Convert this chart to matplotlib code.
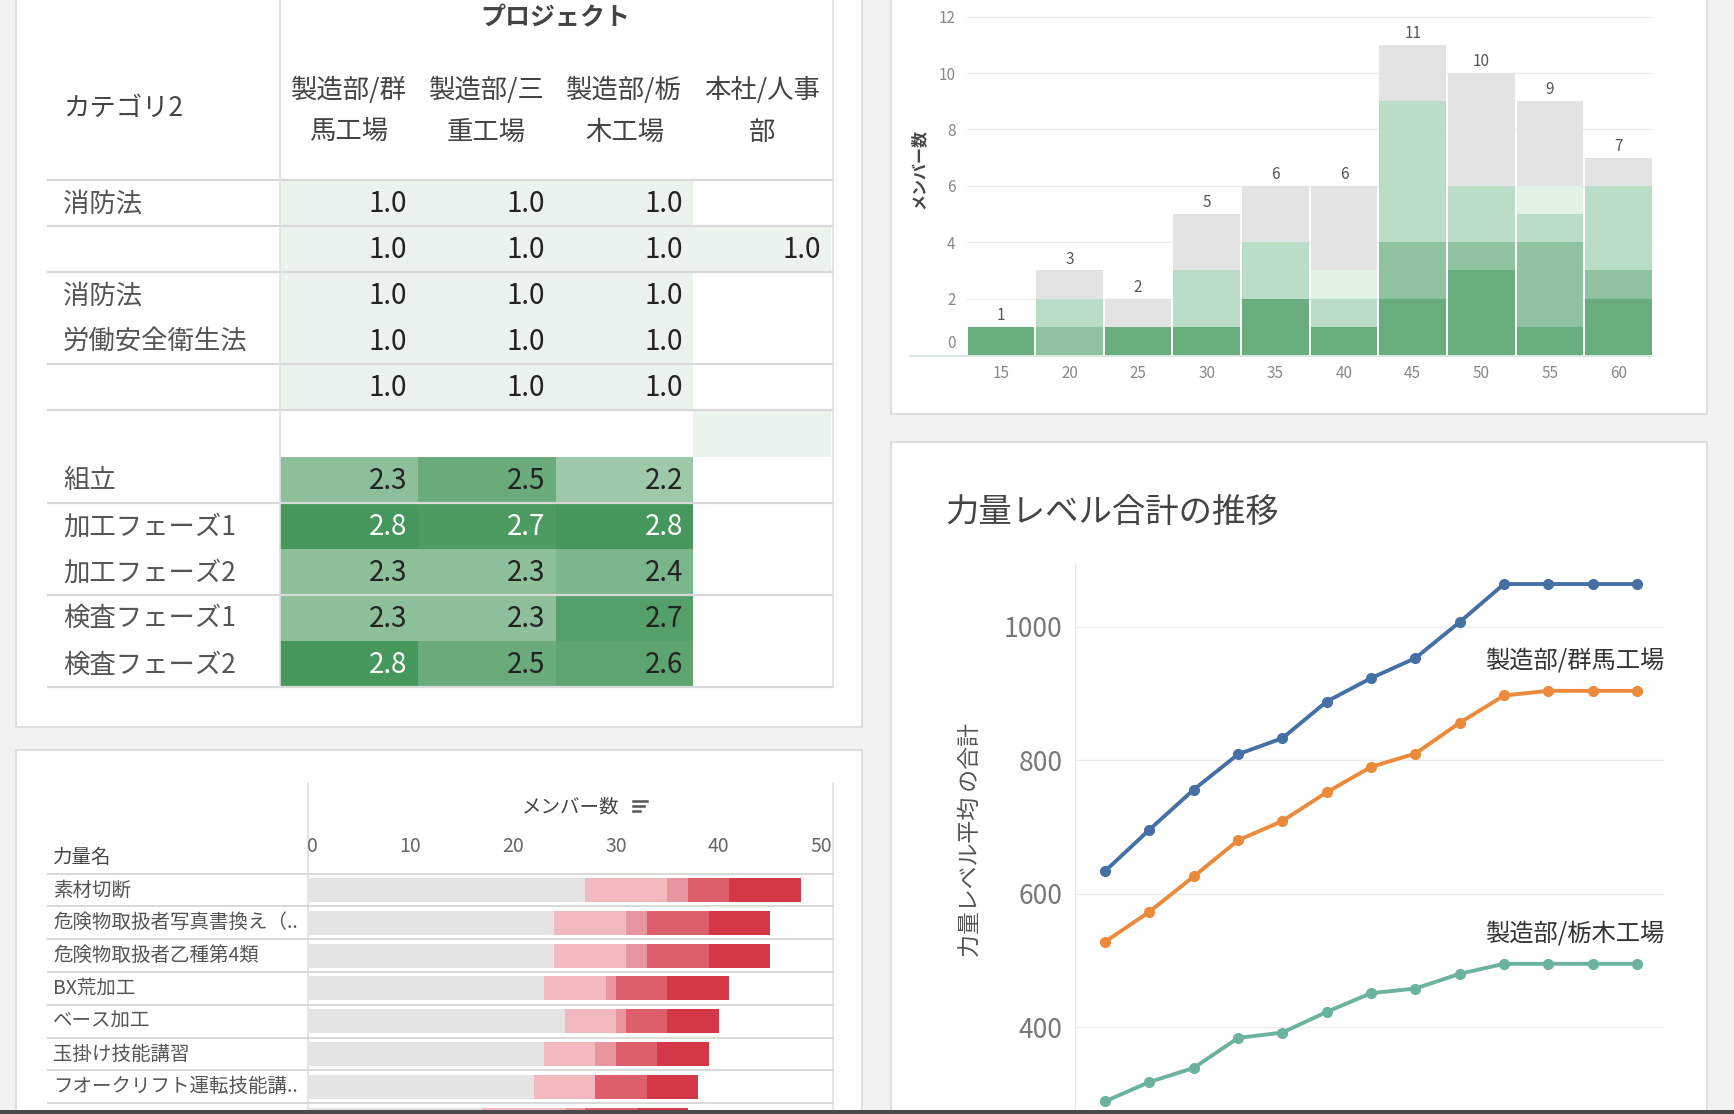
#!/usr/bin/env python3
"""Skill dashboard: heat table, age histogram, skill bars and trend lines."""

import numpy as np
import matplotlib
matplotlib.use("Agg")
import matplotlib.pyplot as plt
from matplotlib.colors import LinearSegmentedColormap, Normalize
from matplotlib.patches import Rectangle
from matplotlib import transforms

plt.rcParams['font.family'] = ['Noto Sans CJK JP', 'DejaVu Sans']

W, H = 1734, 1114
DPI = 100
nan = np.nan

# ---- heat table (average skill level per project) ----
PROJECTS = ['製造部/群\n馬工場', '製造部/三\n重工場', '製造部/栃\n木工場', '本社/人事\n部']
TABLE_ROWS = ['消防法', '', '消防法', '労働安全衛生法', '', '',
              '組立', '加工フェーズ1', '加工フェーズ2', '検査フェーズ1', '検査フェーズ2']
TABLE_VALUES = np.array([
    [1.0, 1.0, 1.0, nan],
    [1.0, 1.0, 1.0, 1.0],
    [1.0, 1.0, 1.0, nan],
    [1.0, 1.0, 1.0, nan],
    [1.0, 1.0, 1.0, nan],
    [nan, nan, nan, 1.0],
    [2.3, 2.5, 2.2, nan],
    [2.8, 2.74, 2.8, nan],
    [2.3, 2.3, 2.4, nan],
    [2.3, 2.3, 2.66, nan],
    [2.8, 2.5, 2.6, nan],
])
UNLABELED_CELLS = [(5, 3)]
GROUP_LAST_ROWS = [0, 1, 3, 4, 6, 8, 10]

# ---- age histogram (members per age, stacked by level) ----
AGES = [15, 20, 25, 30, 35, 40, 45, 50, 55, 60]
AGE_L4 = [1, 0, 1, 1, 2, 1, 2, 3, 1, 2]
AGE_L3 = [0, 1, 0, 0, 0, 0, 2, 1, 3, 1]
AGE_L2 = [0, 1, 0, 2, 2, 1, 5, 2, 1, 3]
AGE_L1 = [0, 0, 0, 0, 0, 1, 0, 0, 1, 0]
AGE_NONE = [0, 1, 1, 2, 2, 3, 2, 4, 3, 1]

# ---- skill bars (members per skill, stacked by level) ----
SKILL_NAMES = ['素材切断', '危険物取扱者写真書換え（..', '危険物取扱者乙種第4類', 'BX荒加工',
               'ベース加工', '玉掛け技能講習', 'フオークリフト運転技能講..', '']
SKILL_NONE = [27, 24, 24, 23, 25, 23, 22, 17]
SKILL_L1 = [8, 7, 7, 6, 5, 5, 6, 8]
SKILL_L2 = [2, 2, 2, 1, 1, 2, 0, 2]
SKILL_L3 = [4, 6, 6, 5, 4, 4, 5, 5]
SKILL_L4 = [7, 6, 6, 6, 5, 5, 5, 5]

# ---- trend of summed skill level ----
TREND_BLUE = [634, 696, 756, 809, 833, 888, 923, 953, 1007, 1064, 1064, 1064, 1064]
TREND_ORANGE = [528, 573, 626, 680, 709, 752, 790, 810, 856, 897, 904, 904, 904]
TREND_TEAL = [289, 318, 339, 384, 392, 423, 451, 458, 480, 495, 495, 495, 495]
LABEL_ORANGE = '製造部/群馬工場'
LABEL_TEAL = '製造部/栃木工場'

GRAY_TEXT = '#555555'
LINE_GRAY = '#d9d9d9'

fig = plt.figure(figsize=(W / DPI, H / DPI), dpi=DPI, facecolor='#f2f2f2')


def px_axes(x0, y0, x1, y1):
    ax = fig.add_axes([x0 / W, 1 - y1 / H, (x1 - x0) / W, (y1 - y0) / H])
    ax.set_facecolor('none')
    return ax


# background + panels in pixel space
bg = px_axes(0, 0, W, H)
bg.set_xlim(0, W)
bg.set_ylim(H, 0)
bg.axis('off')
for (x0, y0, x1, y1) in [(15.5, -5, 862, 727), (15.5, 750, 862, 1125),
                         (891, -5, 1707, 414), (891, 442, 1707, 1125)]:
    bg.add_patch(Rectangle((x0, y0), x1 - x0, y1 - y0, facecolor='white',
                           edgecolor='#dcdcdc', lw=1.3))

# ============================================
# Heat table
# ============================================
tax = px_axes(280, 180, 831, 687)
cmap = LinearSegmentedColormap.from_list(
    'skill', [(0.0, '#eaf4ec'), (1.2 / 1.8, '#9dc9a8'), (1.5 / 1.8, '#69ab7d'), (1.0, '#45975b')])
norm = Normalize(1.0, 2.8)
nrows, ncols = TABLE_VALUES.shape
tax.pcolormesh(np.arange(ncols + 1), np.arange(nrows + 1),
               np.ma.masked_invalid(TABLE_VALUES), cmap=cmap, norm=norm)
tax.set_xlim(0, ncols)
tax.set_ylim(nrows, 0)
tax.axis('off')

for r in range(nrows):
    for c in range(ncols):
        v = TABLE_VALUES[r, c]
        if np.isnan(v) or (r, c) in UNLABELED_CELLS:
            continue
        tax.text(c + 1 - 0.075, r + 0.52, f'{v:.1f}', ha='right', va='center',
                 fontsize=20, color='white' if v >= 2.7 else '#222222')
    tax.text(-1.575, r + 0.52, TABLE_ROWS[r], ha='left', va='center',
             fontsize=19, color=GRAY_TEXT)

for c, name in enumerate(PROJECTS):
    tax.text(c + 0.5, -1.49, name, ha='center', va='center', fontsize=19,
             color='#444444', linespacing=1.7)
tax.text(-1.575, -1.56, 'カテゴリ2', ha='left', va='center', fontsize=19, color='#444444')
tax.text(ncols / 2, -3.5, 'プロジェクト', ha='center', va='center', fontsize=18,
         color='#444444', fontweight='bold')

for r in [-1] + GROUP_LAST_ROWS:
    tax.plot([-1.684, 4.015], [r + 1, r + 1], color=LINE_GRAY, lw=1.6, clip_on=False)
for xv in [0, 4.015]:
    tax.plot([xv, xv], [-4.0, nrows], color='#e0e0e0', lw=1.2, clip_on=False)

# ============================================
# Age histogram
# ============================================
hax = px_axes(966.5, 11, 1653, 355)
x = np.arange(len(AGES))
bottom = np.zeros(len(AGES))
for vals, color in [(AGE_L4, '#68ad7e'), (AGE_L3, '#8fc3a0'), (AGE_L2, '#b9ddc6'),
                    (AGE_L1, '#e2f3e6'), (AGE_NONE, '#e3e3e3')]:
    hax.bar(x, vals, 0.97, bottom=bottom, color=color, lw=0)
    bottom += np.array(vals)
for i, total in enumerate(bottom):
    hax.text(i, total + 0.4, f'{int(total)}', ha='center', va='center', fontsize=11, color=GRAY_TEXT)

hax.set_xlim(-0.5, len(AGES) - 0.5)
hax.set_ylim(0, 12.2)
hax.set_xticks(x)
hax.set_xticklabels([str(a) for a in AGES])
hax.set_yticks(range(2, 13, 2))
hax.tick_params(length=0, labelsize=11, colors='#888888')
hax.tick_params(axis='x', pad=7)
hax.tick_params(axis='y', pad=8)
hax.annotate('0', xy=(0, 0), xycoords=('axes fraction', 'data'), xytext=(-8, 8),
             textcoords='offset points', ha='right', va='center', fontsize=11, color='#888888')
hax.yaxis.grid(True, color='#ececec', lw=1)
hax.set_axisbelow(True)
for s in hax.spines.values():
    s.set_visible(False)
bg.plot([910, 1653], [355.5, 355.5], color='#d8e6dc', lw=1.3)
fig.text(919 / W, 1 - 169 / H, 'メンバー数', rotation=90, ha='center', va='center',
         fontsize=11.5, color='#444444', fontweight='bold')

# ============================================
# Skill bars
# ============================================
bax = px_axes(307.5, 873.6, 833, 1114)
rows_visible = (1114 - 873.6) / 32.8
y = np.arange(len(SKILL_NAMES))
left = np.zeros(len(SKILL_NAMES))
for vals, color in [(SKILL_NONE, '#e4e4e4'), (SKILL_L1, '#f2b9c0'), (SKILL_L2, '#e8959f'),
                    (SKILL_L3, '#dd5f6c'), (SKILL_L4, '#d43847')]:
    bax.barh(y, vals, 0.73, left=left, color=color, lw=0)
    left += np.array(vals)
bax.set_ylim(-0.5 + rows_visible, -0.5)
bax.set_xlim(0, 51.1)
bax.xaxis.tick_top()
bax.set_xticks(range(0, 51, 10))
bax.set_yticks([])
bax.tick_params(length=0, labelsize=14, colors='#666666', pad=12)
bax.get_xticklabels()[0].set_horizontalalignment('left')
for s in bax.spines.values():
    s.set_visible(False)

blend = transforms.blended_transform_factory(bax.transAxes, bax.transData)
for i, name in enumerate(SKILL_NAMES):
    bax.text(-0.4843, i, name, transform=blend, ha='left', va='center',
             fontsize=14, color=GRAY_TEXT, clip_on=False)
for k in range(len(SKILL_NAMES) + 1):
    bax.plot([-0.4938, 1.0], [k - 0.5, k - 0.5], transform=blend, color=LINE_GRAY,
             lw=1.4, clip_on=False)
for xv in [307.5, 833]:
    bg.plot([xv, xv], [783, 1114], color='#e0e0e0', lw=1.2)
fig.text(571 / W, 1 - 807 / H, 'メンバー数', ha='center', va='center', fontsize=14, color='#444444')
fig.text(53 / W, 1 - 857 / H, '力量名', ha='left', va='center', fontsize=14, color='#444444')
for j, (a, b) in enumerate([(633, 647), (633, 644), (633, 640)]):
    bg.plot([a, b], [801 + j * 5, 801 + j * 5], color='#555555', lw=1.8, zorder=5)

# ============================================
# Trend lines
# ============================================
lax = px_axes(1075, 564, 1664, 1114)
t = np.arange(len(TREND_BLUE))
for vals, color in [(TREND_BLUE, '#4470a5'), (TREND_ORANGE, '#ec8a3b'), (TREND_TEAL, '#6bb39e')]:
    lax.plot(t, vals, color=color, lw=2.8, marker='o', markersize=7)
lax.annotate(LABEL_ORANGE, xy=(t[-1], TREND_ORANGE[-1]), xytext=(19.5, 21),
             textcoords='offset points', ha='right', va='center', fontsize=17.5, color='#333333')
lax.annotate(LABEL_TEAL, xy=(t[-1], TREND_TEAL[-1]), xytext=(19.5, 21),
             textcoords='offset points', ha='right', va='center', fontsize=17.5, color='#333333')
lax.set_xlim(-0.68, 12.61)
lax.set_ylim(270, 1094)
lax.set_xticks([])
lax.set_yticks([400, 600, 800, 1000])
lax.tick_params(length=0, labelsize=19, colors='#777777', pad=9)
lax.yaxis.grid(True, color='#ececec', lw=1)
lax.set_axisbelow(True)
for name, s in lax.spines.items():
    s.set_visible(name == 'left')
lax.spines['left'].set_color('#e8e8e8')
fig.text(945.5 / W, 1 - 512 / H, '力量レベル合計の推移', ha='left', va='center',
         fontsize=24, color='#444444')
fig.text(970 / W, 1 - 840 / H, '力量レベル平均 の合計', rotation=90, ha='center',
         va='center', fontsize=16.5, color=GRAY_TEXT)

# bottom edge of the screen capture
fig.add_artist(Rectangle((0, 0), 1, 4 / H, transform=fig.transFigure,
                         facecolor='#4a4a4a', lw=0, zorder=20))

fig.savefig('out.png', dpi=DPI, facecolor=fig.get_facecolor())
